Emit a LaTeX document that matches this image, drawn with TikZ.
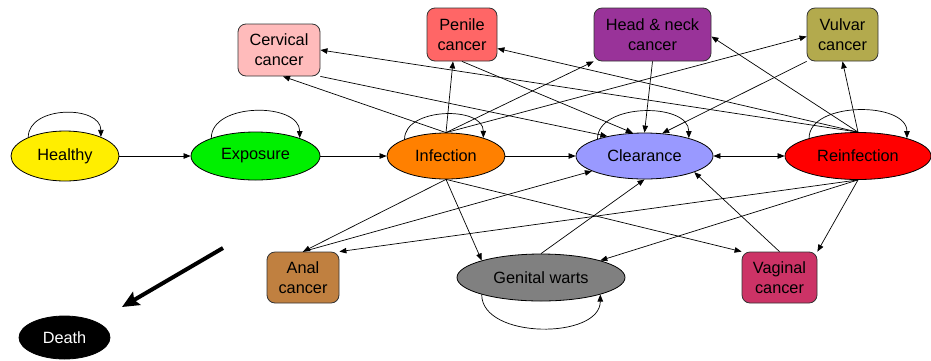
\documentclass[tikz,border=0pt]{standalone}
\usepackage{fontspec}
\setmainfont{Liberation Sans}
\usetikzlibrary{shapes.geometric,arrows.meta}

% state and cancer fill colours
\definecolor{cHealthy}{RGB}{255,238,0}
\definecolor{cExpo}{RGB}{0,240,0}
\definecolor{cInf}{RGB}{255,128,0}
\definecolor{cClr}{RGB}{153,153,255}
\definecolor{cRein}{RGB}{255,0,0}
\definecolor{cCerv}{RGB}{255,187,187}
\definecolor{cPen}{RGB}{255,102,102}
\definecolor{cHN}{RGB}{153,51,153}
\definecolor{cVul}{RGB}{179,170,77}
\definecolor{cAnal}{RGB}{192,128,64}
\definecolor{cWarts}{RGB}{128,128,128}
\definecolor{cVag}{RGB}{204,51,102}

\begin{document}
\begin{tikzpicture}[
  x=1pt, y=-1pt,
  lbl/.style={font=\fontsize{16.3}{20}\selectfont},
  state/.style={ellipse, draw=black, line width=0.8pt, inner sep=0pt, lbl},
  cancer/.style={rectangle, rounded corners=8pt, draw=black!80, line width=0.8pt,
                 inner sep=0pt, align=center, lbl},
  tr/.style={-{Triangle[length=7pt,width=5.5pt]}, line width=0.7pt},
  trboth/.style={{Triangle[length=7pt,width=5.5pt]}-{Triangle[length=7pt,width=5.5pt]}, line width=0.7pt},
  bigarrow/.style={-{Stealth[length=17pt,width=15pt,inset=3pt]}, line width=4pt},
]
\useasboundingbox (0,0) rectangle (931,360);

% --- disease states (ellipses) ---
\node[state, fill=cHealthy, minimum width=108pt, minimum height=50pt] (heal) at (65,156) {Healthy};
\node[state, fill=cExpo, minimum width=129pt, minimum height=48pt] (expo) at (255.5,156) {Exposure};
\node[state, fill=cInf, minimum width=118pt, minimum height=46pt] (inf) at (446,156) {Infection};
\node[state, fill=cClr, minimum width=137pt, minimum height=46pt] (clr) at (644.5,156) {Clearance};
\node[state, fill=cRein, minimum width=146pt, minimum height=47pt] (rein) at (858,156) {Reinfection};
\node[state, fill=cWarts, minimum width=168pt, minimum height=47pt] (warts) at (541,277.5) {Genital warts};
\node[state, fill=black, text=white, minimum width=91pt, minimum height=43pt] (death) at (64.5,337.5) {Death};

% --- cancers (rounded boxes) ---
\node[cancer, fill=cCerv, minimum width=82pt, minimum height=52pt] (cerv) at (279,50) {Cervical\\cancer};
\node[cancer, fill=cPen, minimum width=70pt, minimum height=53pt] (pen) at (462,34.5) {Penile\\cancer};
\node[cancer, fill=cHN, minimum width=117pt, minimum height=53pt] (hn) at (652.5,34.5) {Head \& neck\\cancer};
\node[cancer, fill=cVul, minimum width=71pt, minimum height=53pt] (vul) at (842.5,34.5) {Vulvar\\cancer};
\node[cancer, fill=cAnal, minimum width=72pt, minimum height=51pt] (anal) at (303,277.5) {Anal\\cancer};
\node[cancer, fill=cVag, minimum width=75pt, minimum height=51pt] (vag) at (779.5,277.5) {Vaginal\\cancer};

% --- main chain ---
\draw[tr] (heal.east) -- (expo.west);
\draw[tr] (expo.east) -- (inf.west);
\draw[tr] (inf.east) -- (clr.west);
\draw[trboth] (clr.east) -- (rein.west);

% --- self loops ---
\draw[tr] (heal.153) .. controls +(0,-32) and +(0,-32) .. (heal.28);
\draw[tr] (expo.158) .. controls +(0,-36) and +(0,-36) .. (expo.22);
\draw[tr] (inf.158) .. controls +(0,-32) and +(0,-32) .. (inf.26);
\draw[tr] (clr.160) .. controls +(0,-36) and +(0,-36) .. (clr.22);
\draw[tr] (rein.160) .. controls +(0,-37) and +(0,-37) .. (rein.20);
\draw[tr] (warts.196) .. controls +(0,45) and +(0,45) .. (warts.344);

% --- infection to cancers and warts ---
\draw[tr] (inf.north) -- ([xshift=4pt]cerv.south);
\draw[tr] (inf.north) -- ([xshift=-9pt]pen.south);
\draw[tr] (inf.north) -- (hn.south west);
\draw[tr] (inf.north) -- ([yshift=-2pt]vul.west);
\draw[tr] (inf.south) -- (anal.north);
\draw[tr] (inf.south) -- (warts.164);
\draw[tr] (inf.south) -- (vag.north west);

% --- reinfection to cancers and warts ---
\draw[tr] (rein.north) -- (cerv.east);
\draw[tr] (rein.north) -- ([yshift=-14pt]pen.east);
\draw[tr] (rein.north) -- ([yshift=-2pt]hn.east);
\draw[tr] (rein.north) -- (vul.south);
\draw[tr] (rein.south) -- (anal.north east);
\draw[tr] (rein.south) -- (warts.16);
\draw[tr] (rein.south) -- (vag.north east);

% --- cancers and warts to clearance ---
\draw[tr] (cerv.south east) -- (clr.152);
\draw[tr] (pen.south) -- (clr.117);
\draw[tr] (hn.south) -- (clr.north);
\draw[tr] (vul.south west) -- (clr.52);
\draw[tr] (anal.north) -- (clr.196);
\draw[tr] (warts.north) -- (clr.south);
\draw[tr] (vag.north) -- (clr.-18);

% --- death ---
\coordinate (dstart) at (223,248);
\coordinate (dend) at (122,307);
\draw[bigarrow] (dstart) -- (dend);
\end{tikzpicture}
\end{document}
